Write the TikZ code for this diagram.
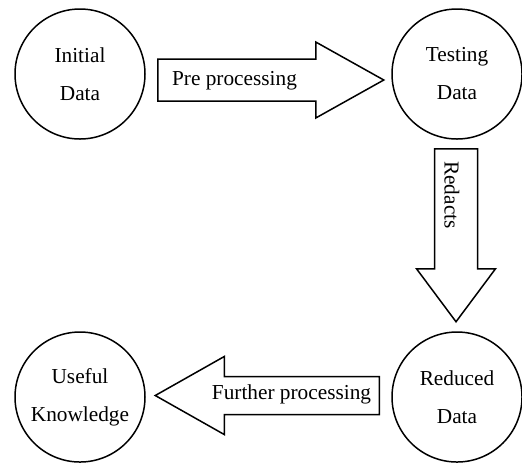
\documentclass[tikz,border=0pt]{standalone}
\usepackage{fontspec}
\setmainfont{Liberation Serif}
\usetikzlibrary{calc}
\tikzset{
  stage/.style={draw, circle, minimum size=65pt, inner sep=0pt, align=center,
                font=\fontsize{10.65pt}{19pt}\selectfont},
  arrowline/.style={draw, fill=white},
  steplabel/.style={inner sep=0pt, font=\fontsize{10.65pt}{13pt}\selectfont},
  % block arrow along local x: total length, head length, shaft half width, head half width
  pics/blockarrow/.style n args={4}{code={
    \draw[arrowline] (0,-#3) -- ({#1-#2},-#3) -- ({#1-#2},-#4) -- (#1,0)
      -- ({#1-#2},#4) -- ({#1-#2},#3) -- (0,#3) -- cycle;
  }},
}
\begin{document}
\begin{tikzpicture}[x=0.5pt, y=-0.5pt, line width=0.75pt]
\useasboundingbox (0,0) rectangle (522,462);

% data stages
\node[stage] (init) at (80,74)   {Initial\\Data};
\node[stage] (test) at (457,74)  {Testing\\Data};
\node[stage] (red)  at (457,397) {Reduced\\Data};
\node[stage] (use)  at (80,397)  {Useful\\Knowledge};

% processing steps as block arrows
\pic at ($(init.east)+(12,6)$) {blockarrow={226}{68}{21}{38}};
\pic[rotate=-90] at ($(test.south)+(-1,9)$) {blockarrow={173}{53}{21.5}{39.5}};
\pic[rotate=180] at ($(red.west)+(-12,-1.5)$) {blockarrow={224}{69}{19}{39}};

\node[steplabel] (pre)  at (234.5,81)  {Pre processing};
\node[steplabel, rotate=-90] (redx) at (452,195) {Redacts};
\node[steplabel] (fur)  at (291.5,394.5) {Further processing};
\end{tikzpicture}
\end{document}
